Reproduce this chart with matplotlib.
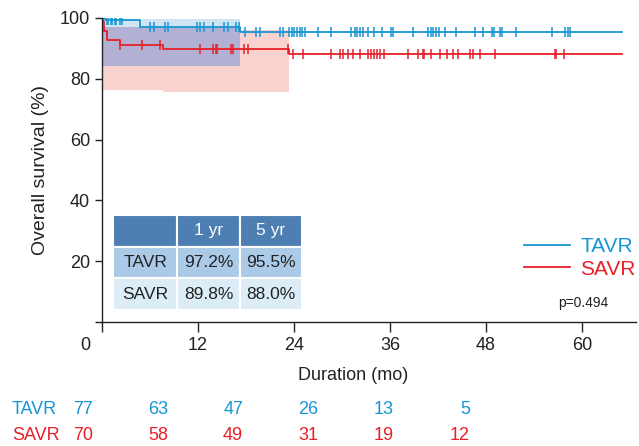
import matplotlib.pyplot as plt
import numpy as np

plt.rcParams['font.family'] = ['Liberation Sans', 'DejaVu Sans']

# survival steps (months, %)
tavr_t = [0, 0.4, 4.8, 17.3, 65.0]
tavr_s = [100, 99.3, 97.1, 95.5, 95.5]
savr_t = [0, 0.1, 0.3, 0.6, 2.2, 7.6, 23.4, 65.0]
savr_s = [100, 98.6, 95.7, 92.8, 91.1, 89.8, 88.0, 88.0]

# confidence bands
tavr_ci_t = [0, 17.3]
tavr_ci_lo = [84.2, 84.2]
tavr_ci_hi = [99.7, 99.7]
savr_ci_t = [0, 7.6, 17.3, 23.4]
savr_ci_lo = [76.3, 75.7, 75.7, 75.7]
savr_ci_hi = [97.1, 97.1, 96.0, 96.0]

# censored times
tavr_cens = [0.6, 0.8, 1.1, 1.3, 1.6, 1.8, 2.2, 2.5, 6.0, 6.5, 7.9, 8.3,
             11.9, 12.25, 12.7, 13.9, 15.2, 15.7, 16.8, 17.1, 17.9, 19.25, 19.8,
             22.3, 22.6, 23.4, 23.7, 24.0, 24.4, 24.8, 25.0, 25.4, 27.0, 28.6,
             31.1, 31.6, 31.9, 32.25, 32.6, 33.2, 34.0, 35.0, 36.1, 36.4, 38.9,
             40.8, 41.1, 41.4, 41.8, 42.1, 42.9, 44.25, 46.6, 47.6, 48.8, 49.0,
             49.8, 50.0, 51.8, 56.2, 57.9, 58.2, 58.5]
savr_cens = [2.2, 5.0, 7.25, 12.2, 13.9, 14.25, 14.4, 16.1, 16.4, 17.7, 18.2,
             23.3, 23.9, 25.1, 28.6, 29.8, 30.1, 30.8, 31.4, 32.2, 33.3, 33.6,
             34.0, 34.4, 34.8, 35.2, 38.2, 39.5, 40.1, 40.25, 41.1, 42.2, 43.1,
             43.9, 44.5, 46.0, 46.4, 47.25, 49.1, 56.6, 56.8, 57.7]

table_cols = ['', '1 yr', '5 yr']
table_rows = [['TAVR', '97.2%', '95.5%'], ['SAVR', '89.8%', '88.0%']]

risk_labels = ['TAVR', 'SAVR']
tavr_risk = [77, 63, 47, 26, 13, 5]
savr_risk = [70, 58, 49, 31, 19, 12]

blue = '#1796d4'
red = '#e8202a'
ink = '#222222'


def step_at(t, times, surv):
    idx = np.searchsorted(times, t, side='right') - 1
    return np.asarray(surv)[idx]


fig = plt.figure(figsize=(6.39, 4.46), dpi=100)
ax = fig.add_axes([102 / 639, 1 - 322 / 446, 534 / 639, 304 / 446])

# bands: pink, blue, overlap
ax.fill_between(savr_ci_t, savr_ci_lo, savr_ci_hi, step='post', color='#fad3d1', lw=0)
ax.fill_between(tavr_ci_t, tavr_ci_lo, tavr_ci_hi, step='post', color='#d0e5f1', lw=0)
ov_lo = np.maximum(tavr_ci_lo, step_at(tavr_ci_t, savr_ci_t, savr_ci_lo))
ov_hi = np.minimum(tavr_ci_hi, step_at(tavr_ci_t, savr_ci_t, savr_ci_hi))
ax.fill_between(tavr_ci_t, ov_lo, ov_hi, step='post', color='#b3b1d3', lw=0)

ax.step(tavr_t, tavr_s, where='post', color=blue, lw=1.3)
ax.step(savr_t, savr_s, where='post', color=red, lw=1.3)
ax.plot(tavr_cens, step_at(tavr_cens, tavr_t, tavr_s), ls='none', marker='|',
        ms=7, mew=1.1, color=blue)
ax.plot(savr_cens, step_at(savr_cens, savr_t, savr_s), ls='none', marker='|',
        ms=7, mew=1.1, color=red)

ax.set_xlim(0, 66.75)
ax.set_ylim(0, 100)
ax.set_xticks([0, 12, 24, 36, 48, 60])
ax.set_xticklabels(['', '12', '24', '36', '48', '60'])
ax.set_yticks([0, 20, 40, 60, 80, 100])
ax.set_yticklabels(['', '20', '40', '60', '80', '100'])
ax.tick_params(axis='both', labelsize=13, colors=ink, width=1, length=7)
ax.tick_params(axis='y', length=5)
for s in ('top', 'right'):
    ax.spines[s].set_visible(False)
for s in ('left', 'bottom'):
    ax.spines[s].set_linewidth(1)
    ax.spines[s].set_color(ink)
ax.set_xlabel('Duration (mo)', fontsize=13, color=ink, va='center')
ax.xaxis.set_label_coords((353 - 102) / 534, -(376 - 322) / 304)
ax.set_ylabel('Overall survival (%)', fontsize=14, color=ink, labelpad=8)
fig.text(85 / 639, 1 - 345 / 446, '0', fontsize=13, color=ink,
         ha='center', va='center')

# summary table
tab = ax.table(cellText=table_rows, colLabels=table_cols, cellLoc='center',
               bbox=[11 / 534, 12 / 304, 189 / 534, 95 / 304])
tab.auto_set_font_size(False)
row_colors = ['#4e7fb2', '#abcae8', '#dcedf7']
for (r, c), cell in tab.get_celld().items():
    cell.set_facecolor(row_colors[r])
    cell.set_edgecolor('white')
    cell.set_linewidth(1.5)
    cell.get_text().set_fontsize(12.5)
    cell.get_text().set_color('white' if r == 0 else ink)
for (r, c), cell in tab.get_celld().items():
    cell.set_width([64, 62, 62][c] / 534)

# legend
h1, = ax.plot([], [], color=blue, lw=1.3, label='TAVR')
h2, = ax.plot([], [], color=red, lw=1.3, label='SAVR')
fig.legend(handles=[h1, h2], loc='center right', bbox_to_anchor=(0.995, 1 - 258 / 446),
           frameon=False, fontsize=15, labelcolor='linecolor', handlelength=2.2,
           handletextpad=0.5, labelspacing=0.15, borderpad=0, borderaxespad=0)
fig.text(583 / 639, 1 - 303 / 446, 'p=0.494', fontsize=10, color=ink,
         ha='center', va='center')

# numbers at risk
risk_x = [93, 168, 243, 318, 394, 470]
for lab, vals, y, col in [(risk_labels[0], tavr_risk, 410, blue),
                          (risk_labels[1], savr_risk, 435, red)]:
    fig.text(12 / 639, 1 - y / 446, lab, fontsize=13, color=col, va='center')
    for x, v in zip(risk_x, vals):
        fig.text(x / 639, 1 - y / 446, str(v), fontsize=13, color=col,
                 ha='right', va='center')

fig.savefig('out.png', dpi=100)
